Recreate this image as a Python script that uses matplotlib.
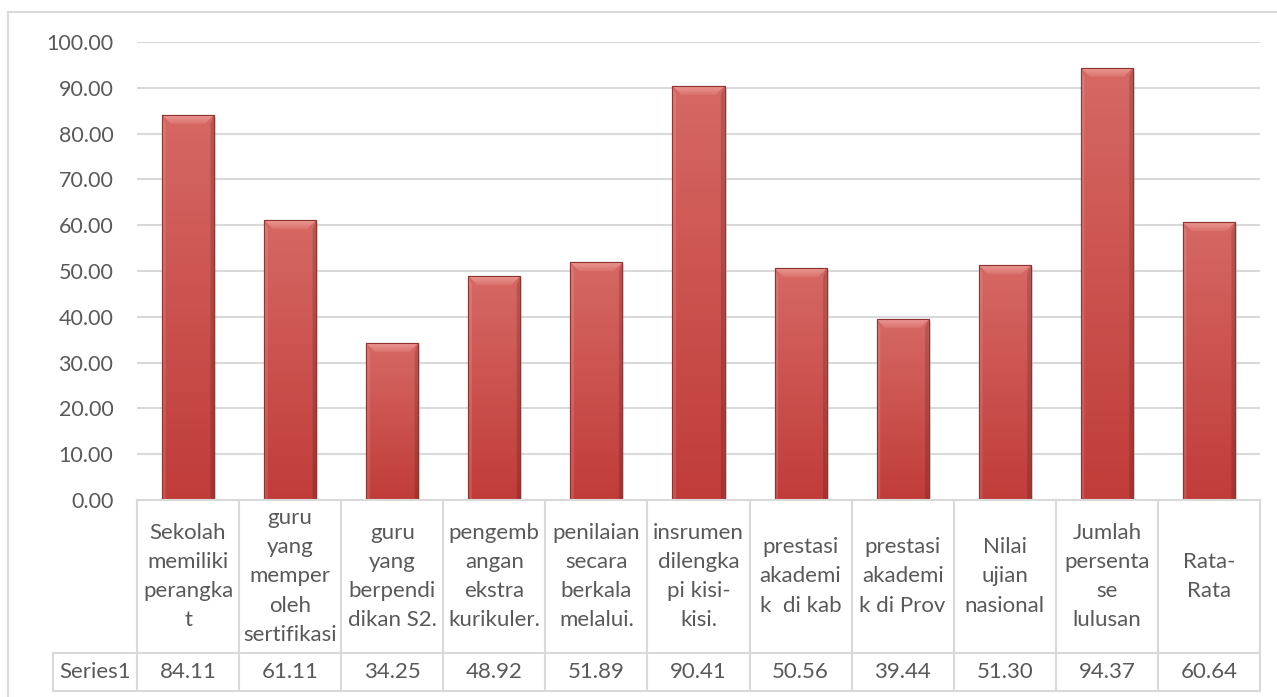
import matplotlib
matplotlib.use('Agg')
import matplotlib.pyplot as plt
import numpy as np
from matplotlib.patches import Polygon, Rectangle

plt.rcParams['font.family'] = ['Lato', 'DejaVu Sans']

categories = ['Sekolah\nmemiliki\nperangka\nt',
              'guru\nyang\nmemper\noleh\nsertifikasi',
              'guru\nyang\nberpendi\ndikan S2.',
              'pengemb\nangan\nekstra\nkurikuler.',
              'penilaian\nsecara\nberkala\nmelalui.',
              'insrumen\ndilengka\npi kisi-\nkisi.',
              'prestasi\nakademi\nk  di kab',
              'prestasi\nakademi\nk di Prov',
              'Nilai\nujian\nnasional',
              'Jumlah\npersenta\nse\nlulusan',
              'Rata-\nRata']
values = [84.11, 61.11, 34.25, 48.92, 51.89, 90.41, 50.56, 39.44, 51.30, 94.37, 60.64]
series_name = 'Series1'
yticks = np.arange(0, 101, 10)

W, H = 1277, 697
TXT = '#595959'
GRID = '#D9D9D9'
FS = 15.5
FS_T = 16

fig = plt.figure(figsize=(W / 100, H / 100), dpi=100)

# outer chart border
fig.add_artist(Rectangle((8 / W, -0.05), 1.2, 1 - 12 / H + 0.05,
                         transform=fig.transFigure, fill=False,
                         edgecolor=GRID, linewidth=1.5))

px_l, px_r, px_t, px_b = 137, 1260, 42, 500
ax = fig.add_axes([px_l / W, 1 - px_b / H, (px_r - px_l) / W, (px_b - px_t) / H])
ax.set_xlim(-0.5, len(values) - 0.5)
ax.set_ylim(0, 100)
for s in ax.spines.values():
    s.set_visible(False)
ax.set_xticks([])
ax.set_yticks(yticks)
ax.set_yticklabels(['{:.2f}'.format(t) for t in yticks])
ax.tick_params(axis='y', length=0, pad=17, labelsize=FS, labelcolor=TXT)
for t in yticks[1:]:
    ax.axhline(t, color=GRID, linewidth=1.5, zorder=0)

bw = 0.51
upx = (px_r - px_l) / len(values)      # pixels per x unit
upy = (px_b - px_t) / 100.0            # pixels per y unit
dx = 9 / upx
dy = 9 / upy
grad = np.linspace(0, 1, 256).reshape(-1, 1)
cmap = matplotlib.colors.LinearSegmentedColormap.from_list(
    'bar', ['#C03C39', '#D66864'])
tgrad = matplotlib.colors.LinearSegmentedColormap.from_list(
    'top', ['#DA726E', '#EC9894'])
bars = ax.bar(range(len(values)), values, width=bw, color='#CC4E4A',
              edgecolor='#8E3431', linewidth=0.8, zorder=2)
for i, (b, v) in enumerate(zip(bars, values)):
    x0 = b.get_x()
    x1 = x0 + b.get_width()
    # soft shadow
    ax.add_patch(Rectangle((x0 + 2 / upx, 0), b.get_width(), v - 2 / upy,
                           color='#BBBBBB', alpha=0.5, zorder=1, linewidth=0))
    im = ax.imshow(grad, extent=[x0, x1, 0, v], aspect='auto', cmap=cmap,
                   origin='lower', zorder=2.1)
    im.set_clip_path(b)
    # bevel: top, left, right faces
    top = Polygon([(x0, v), (x1, v), (x1 - dx, v - dy), (x0 + dx, v - dy)],
                  closed=True, facecolor='none', edgecolor='none', zorder=2.2)
    ax.add_patch(top)
    imt = ax.imshow(grad, extent=[x0, x1, v - dy, v], aspect='auto', cmap=tgrad,
                    origin='lower', zorder=2.2)
    imt.set_clip_path(top)
    ax.add_patch(Polygon([(x0, v), (x0 + dx * 0.4, v - dy), (x0 + dx * 0.4, 0), (x0, 0)],
                         closed=True, facecolor='white', alpha=0.12,
                         edgecolor='none', zorder=2.25))
    ax.add_patch(Polygon([(x1, v), (x1 - dx * 0.4, v - dy), (x1 - dx * 0.4, 0), (x1, 0)],
                         closed=True, facecolor='black', alpha=0.15,
                         edgecolor='none', zorder=2.25))
    ax.add_patch(Rectangle((x0, 0), b.get_width(), v, fill=False,
                           edgecolor='#8E3431', linewidth=0.8, zorder=2.3))

# data table below the plot
tb_l, tb_b = 53, 691
hdr = 153
ax_t = fig.add_axes([tb_l / W, 1 - tb_b / H, (px_r - tb_l) / W, (tb_b - px_b) / H])
x_left = -0.5 - (px_l - tb_l) / upx
ax_t.set_xlim(x_left, len(values) - 0.5)
ax_t.set_ylim(tb_b - px_b, 0)
ax_t.axis('off')
n = len(values)
lk = dict(color=GRID, linewidth=1.5, clip_on=False)
ax_t.plot([-0.5, n - 0.5], [0, 0], **lk)
ax_t.plot([x_left, n - 0.5], [hdr, hdr], **lk)
ax_t.plot([x_left, n - 0.5], [tb_b - px_b, tb_b - px_b], **lk)
ax_t.plot([x_left, x_left], [hdr, tb_b - px_b], **lk)
for k in range(n + 1):
    ax_t.plot([k - 0.5, k - 0.5], [0, tb_b - px_b], **lk)
row_mid = (hdr + tb_b - px_b) / 2
ax_t.text((x_left - 0.5) / 2, row_mid, series_name, ha='center', va='center',
          fontsize=FS_T, color=TXT)
for i, (c, v) in enumerate(zip(categories, values)):
    ax_t.text(i, hdr / 2, c, ha='center', va='center', fontsize=FS_T,
              color=TXT, linespacing=1.58)
    ax_t.text(i, row_mid, '{:.2f}'.format(v), ha='center', va='center',
              fontsize=FS_T, color=TXT)

fig.savefig('out.png', dpi=100, facecolor='white')
